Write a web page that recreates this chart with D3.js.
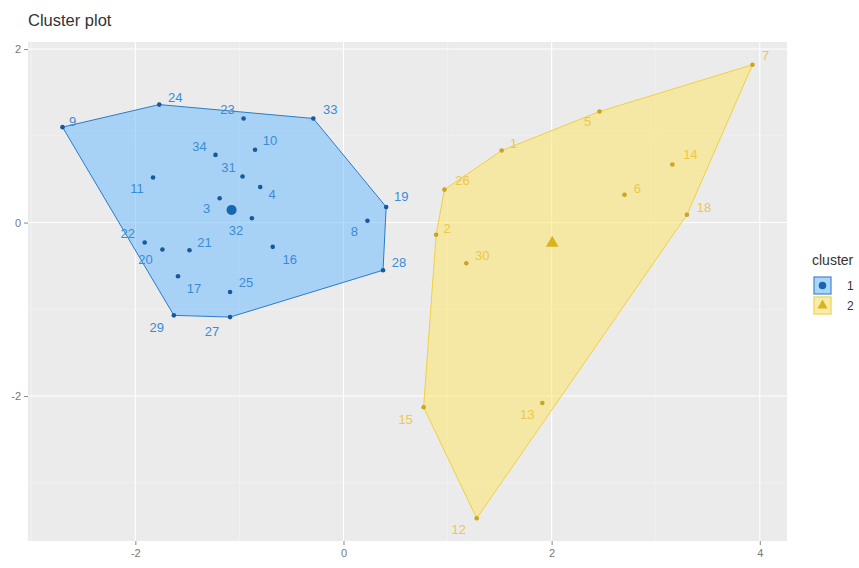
<!DOCTYPE html>
<html>
<head>
<meta charset="utf-8">
<script src="https://cdn.jsdelivr.net/npm/d3@7"></script>
<style>
  html, body { margin: 0; padding: 0; background: #fff; }
  svg { display: block; font-family: "Liberation Sans", Arial, sans-serif; }
</style>
</head>
<body>
<svg id="chart" width="859" height="568"></svg>
<script>
// Observations (row ids), cluster membership and the two principal dimensions
const ids = [9, 24, 23, 33, 34, 10, 31, 11, 4, 19, 3, 32, 8, 22, 20, 21, 16, 28, 17, 25, 29, 27,
             7, 5, 1, 26, 2, 30, 6, 14, 18, 15, 13, 12];
const cluster = [1, 1, 1, 1, 1, 1, 1, 1, 1, 1, 1, 1, 1, 1, 1, 1, 1, 1, 1, 1, 1, 1,
                 2, 2, 2, 2, 2, 2, 2, 2, 2, 2, 2, 2];
const dim1 = [-2.70, -1.77, -0.96, -0.29, -1.23, -0.85, -0.97, -1.83, -0.80, 0.41, -1.19, -0.88, 0.23,
              -1.91, -1.74, -1.48, -0.68, 0.38, -1.59, -1.09, -1.63, -1.09,
              3.93, 2.46, 1.52, 0.97, 0.89, 1.18, 2.70, 3.16, 3.30, 0.77, 1.91, 1.28];
const dim2 = [1.10, 1.36, 1.20, 1.20, 0.78, 0.84, 0.53, 0.52, 0.41, 0.18, 0.28, 0.05, 0.02,
              -0.23, -0.31, -0.32, -0.28, -0.55, -0.62, -0.80, -1.07, -1.09,
              1.82, 1.28, 0.83, 0.38, -0.14, -0.47, 0.32, 0.67, 0.09, -2.13, -2.08, -3.41];
const clusterNames = ["1", "2"];
const xTicks = [-2, 0, 2, 4];
const yTicks = [2, 0, -2];
const xMinor = [-3, -1, 1, 3];
const yMinor = [1, -1, -3];

// Label placement around each point (pixels), keyed by id
const labelNudge = {
  9: [10, -6], 24: [16, -7], 23: [-16, -9], 33: [17, -9], 34: [-16, -8], 10: [15, -9],
  31: [-14, -9], 11: [-16, 11], 4: [12, 8], 19: [15, -10], 3: [-13, 10], 32: [-16, 12],
  8: [-13, 11], 22: [-17, -9], 20: [-17, 10], 21: [15, -8], 16: [17, 13], 28: [16, -8],
  17: [16, 12], 25: [16, -9], 29: [-17, 12], 27: [-18, 14],
  7: [13, -9], 5: [-12, 10], 1: [12, -7], 26: [18, -9], 2: [11, -6], 30: [16, -8],
  6: [13, -6], 14: [18, -10], 18: [17, -7], 15: [-18, 12], 13: [-15, 12], 12: [-18, 11]
};

const palette = {
  "1": { line: "#2B7CC8", fill: "#63B9FF", dot: "#17599C", centre: "#1766B0", text: "#3A8CD6" },
  "2": { line: "#F2CF45", fill: "#FFE35D", dot: "#C9A521", centre: "#D9B41E", text: "#EDC845" }
};

const pts = ids.map((id, i) => ({ id, c: String(cluster[i]), x: dim1[i], y: dim2[i] }));

const svg = d3.select("#chart");
const panel = { left: 28, right: 787, top: 42, bottom: 541 };

// 5% padding on each side of the data extent
function padded(ext) { const d = (ext[1] - ext[0]) * 0.05; return [ext[0] - d, ext[1] + d]; }
const x = d3.scaleLinear().domain(padded(d3.extent(dim1))).range([panel.left, panel.right]);
const y = d3.scaleLinear().domain(padded(d3.extent(dim2))).range([panel.bottom, panel.top]);

// Panel background and grid
svg.append("rect")
  .attr("x", panel.left).attr("y", panel.top)
  .attr("width", panel.right - panel.left).attr("height", panel.bottom - panel.top)
  .attr("fill", "#EBEBEB");

const grid = svg.append("g");
grid.selectAll(".vmin").data(xMinor).join("line")
  .attr("x1", d => x(d)).attr("x2", d => x(d)).attr("y1", panel.top).attr("y2", panel.bottom)
  .attr("stroke", "#F5F5F5").attr("stroke-width", 0.6);
grid.selectAll(".hmin").data(yMinor).join("line")
  .attr("y1", d => y(d)).attr("y2", d => y(d)).attr("x1", panel.left).attr("x2", panel.right)
  .attr("stroke", "#F5F5F5").attr("stroke-width", 0.6);
grid.selectAll(".vmaj").data(xTicks).join("line")
  .attr("x1", d => x(d)).attr("x2", d => x(d)).attr("y1", panel.top).attr("y2", panel.bottom)
  .attr("stroke", "#FFFFFF").attr("stroke-width", 1.1);
grid.selectAll(".hmaj").data(yTicks).join("line")
  .attr("y1", d => y(d)).attr("y2", d => y(d)).attr("x1", panel.left).attr("x2", panel.right)
  .attr("stroke", "#FFFFFF").attr("stroke-width", 1.1);

// Convex hull per cluster
const groups = d3.group(pts, d => d.c);
const hullLayer = svg.append("g");
clusterNames.forEach(c => {
  const hull = d3.polygonHull(groups.get(c).map(p => [x(p.x), y(p.y)]));
  hullLayer.append("path")
    .attr("d", "M" + hull.join("L") + "Z")
    .attr("fill", palette[c].fill).attr("fill-opacity", 0.5)
    .attr("stroke", palette[c].line).attr("stroke-width", 1);
});

// Points
svg.append("g").selectAll("circle").data(pts).join("circle")
  .attr("cx", d => x(d.x)).attr("cy", d => y(d.y)).attr("r", 2.3)
  .attr("fill", d => palette[d.c].dot);

// Point labels
svg.append("g").selectAll("text").data(pts).join("text")
  .attr("x", d => x(d.x) + labelNudge[d.id][0])
  .attr("y", d => y(d.y) + labelNudge[d.id][1])
  .attr("text-anchor", "middle").attr("dominant-baseline", "central")
  .attr("font-size", 13)
  .attr("fill", d => palette[d.c].text)
  .text(d => d.id);

// Cluster centres
const centres = clusterNames.map(c => ({
  c, x: d3.mean(groups.get(c), p => p.x), y: d3.mean(groups.get(c), p => p.y)
}));
const centreShape = { "1": d3.symbolCircle, "2": d3.symbolTriangle };
const centreSize = { "1": 80, "2": 70 };
svg.append("g").selectAll("path").data(centres).join("path")
  .attr("transform", d => `translate(${x(d.x)},${y(d.y)})`)
  .attr("d", d => d3.symbol(centreShape[d.c], centreSize[d.c])())
  .attr("fill", d => palette[d.c].centre);

// Axes
const fmt = d => String(d);
const xAxis = d3.axisBottom(x).tickValues(xTicks).tickSize(4).tickPadding(4).tickFormat(fmt);
const yAxis = d3.axisLeft(y).tickValues(yTicks).tickSize(4).tickPadding(3).tickFormat(fmt);
const gx = svg.append("g").attr("transform", `translate(0,${panel.bottom})`).call(xAxis);
const gy = svg.append("g").attr("transform", `translate(${panel.left},0)`).call(yAxis);
[gx, gy].forEach(g => {
  g.select(".domain").remove();
  g.selectAll(".tick line").attr("stroke", "#8A8A8A");
  g.selectAll(".tick text").attr("fill", "#777").attr("font-size", 11)
    .attr("font-family", "Liberation Sans, Arial, sans-serif");
});

// Title
svg.append("text").attr("x", 28).attr("y", 26)
  .attr("font-size", 16.5).attr("fill", "#333").text("Cluster plot");

// Legend
const lg = svg.append("g").attr("transform", "translate(812,0)");
lg.append("text").attr("x", 0).attr("y", 265).attr("font-size", 14).attr("fill", "#333").text("cluster");
clusterNames.forEach((c, i) => {
  const top = 276 + i * 20;
  lg.append("rect").attr("x", 1).attr("y", top).attr("width", 19).attr("height", 19).attr("fill", "#F2F2F2");
  lg.append("rect").attr("x", 2).attr("y", top + 1).attr("width", 17).attr("height", 17)
    .attr("fill", palette[c].fill).attr("fill-opacity", 0.5)
    .attr("stroke", palette[c].line).attr("stroke-width", 1);
  lg.append("path")
    .attr("transform", `translate(10.5,${top + 9.5})`)
    .attr("d", d3.symbol(centreShape[c], 45)())
    .attr("fill", palette[c].centre);
  lg.append("text").attr("x", 35).attr("y", top + 10).attr("dominant-baseline", "central")
    .attr("font-size", 12).attr("fill", "#333").text(clusterNames[i]);
});
</script>
</body>
</html>
